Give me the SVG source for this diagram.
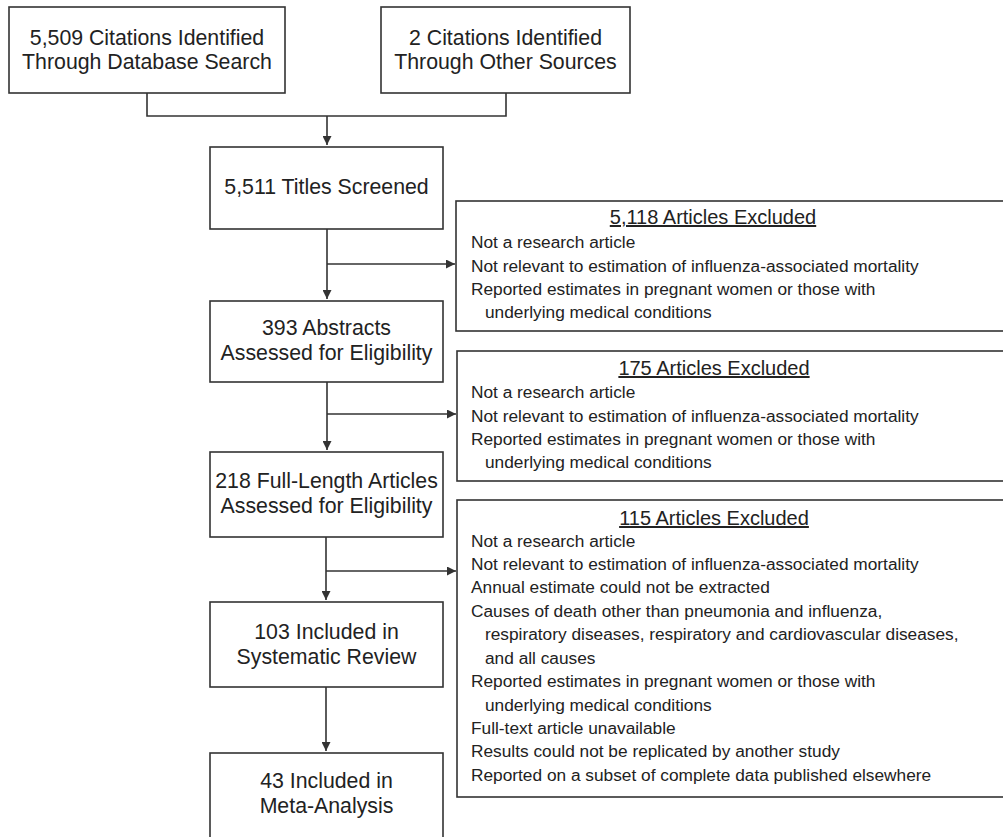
<svg xmlns="http://www.w3.org/2000/svg" width="1003" height="837" viewBox="0 0 1003 837">
<style>
.box{fill:#fff;stroke:#333;stroke-width:1.6}
.conn{fill:none;stroke:#333;stroke-width:1.6}
.main{font-family:"Liberation Sans",Arial,sans-serif;font-size:21.3px;fill:#222;text-anchor:middle}
.head{font-family:"Liberation Sans",Arial,sans-serif;font-size:20px;fill:#222;text-anchor:middle;text-decoration:underline}
.item{font-family:"Liberation Sans",Arial,sans-serif;font-size:17.3px;fill:#222}
</style>
<defs>
<marker id="arr" viewBox="0 0 10 10" refX="10" refY="5" markerWidth="10" markerHeight="9" markerUnits="userSpaceOnUse" orient="auto">
<path d="M0,0 L10,5 L0,10 z" fill="#333"/>
</marker>
</defs>
<g id="connectors">
<path class="conn" d="M147,93 V116 H506 V93"/>
<path class="conn" d="M327,116 V145" marker-end="url(#arr)"/>
<path class="conn" d="M327,229 V299" marker-end="url(#arr)"/>
<path class="conn" d="M327,264 H455" marker-end="url(#arr)"/>
<path class="conn" d="M327,382 V450" marker-end="url(#arr)"/>
<path class="conn" d="M327,414 H456" marker-end="url(#arr)"/>
<path class="conn" d="M326,537 V600" marker-end="url(#arr)"/>
<path class="conn" d="M326,571 H456" marker-end="url(#arr)"/>
<path class="conn" d="M326,687 V751" marker-end="url(#arr)"/>
</g>
<g id="n1">
<rect class="box" x="9" y="7" width="276" height="86"/>
<text class="main" x="147" y="45">5,509 Citations Identified</text>
<text class="main" x="147" y="69">Through Database Search</text>
</g>
<g id="n2">
<rect class="box" x="381" y="7" width="249" height="86"/>
<text class="main" x="505.5" y="45">2 Citations Identified</text>
<text class="main" x="505.5" y="69">Through Other Sources</text>
</g>
<g id="n3">
<rect class="box" x="210" y="147" width="233" height="82"/>
<text class="main" x="326.5" y="194">5,511 Titles Screened</text>
</g>
<g id="n4">
<rect class="box" x="210" y="301" width="233" height="81"/>
<text class="main" x="326.5" y="335">393 Abstracts</text>
<text class="main" x="326.5" y="360">Assessed for Eligibility</text>
</g>
<g id="n5">
<rect class="box" x="210" y="452" width="233" height="85"/>
<text class="main" x="326.5" y="488">218 Full-Length Articles</text>
<text class="main" x="326.5" y="513">Assessed for Eligibility</text>
</g>
<g id="n6">
<rect class="box" x="210" y="602" width="233" height="85"/>
<text class="main" x="326.5" y="639">103 Included in</text>
<text class="main" x="326.5" y="664">Systematic Review</text>
</g>
<g id="n7">
<rect class="box" x="210" y="753" width="233" height="100"/>
<text class="main" x="326.5" y="788">43 Included in</text>
<text class="main" x="326.5" y="813">Meta-Analysis</text>
</g>
<g id="x1">
<rect class="box" x="456" y="201" width="560" height="130"/>
<text class="head" x="713" y="224">5,118 Articles Excluded</text>
<text class="item" x="471" y="248">Not a research article</text>
<text class="item" x="471" y="272">Not relevant to estimation of influenza-associated mortality</text>
<text class="item" x="471" y="295">Reported estimates in pregnant women or those with</text>
<text class="item" x="485" y="318">underlying medical conditions</text>
</g>
<g id="x2">
<rect class="box" x="457" y="351" width="560" height="130"/>
<text class="head" x="714" y="375">175 Articles Excluded</text>
<text class="item" x="471" y="398">Not a research article</text>
<text class="item" x="471" y="422">Not relevant to estimation of influenza-associated mortality</text>
<text class="item" x="471" y="445">Reported estimates in pregnant women or those with</text>
<text class="item" x="485" y="468">underlying medical conditions</text>
</g>
<g id="x3">
<rect class="box" x="457" y="500" width="560" height="297"/>
<text class="head" x="714" y="525">115 Articles Excluded</text>
<text class="item" x="471" y="547">Not a research article</text>
<text class="item" x="471" y="570">Not relevant to estimation of influenza-associated mortality</text>
<text class="item" x="471" y="593">Annual estimate could not be extracted</text>
<text class="item" x="471" y="617">Causes of death other than pneumonia and influenza,</text>
<text class="item" x="485" y="640">respiratory diseases, respiratory and cardiovascular diseases,</text>
<text class="item" x="485" y="664">and all causes</text>
<text class="item" x="471" y="687">Reported estimates in pregnant women or those with</text>
<text class="item" x="485" y="711">underlying medical conditions</text>
<text class="item" x="471" y="734">Full-text article unavailable</text>
<text class="item" x="471" y="757">Results could not be replicated by another study</text>
<text class="item" x="471" y="781">Reported on a subset of complete data published elsewhere</text>
</g>
</svg>
